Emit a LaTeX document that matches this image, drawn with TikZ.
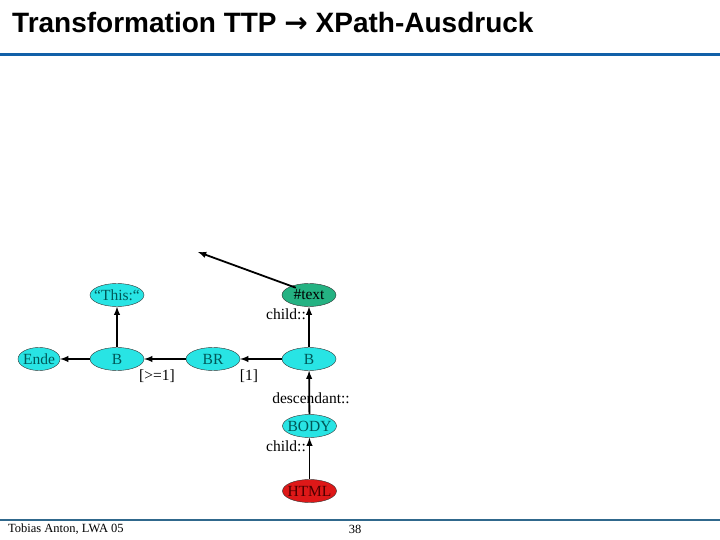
\documentclass[tikz,border=0pt]{standalone}
\usepackage{fontspec}
\setmainfont{Liberation Serif}
\newfontfamily\titlefont{Liberation Sans}
\newfontfamily\pfeilfont{DejaVu Sans}
\usepackage{tikz}
\usetikzlibrary{arrows,shapes,positioning}

\definecolor{knotcyan}{RGB}{40,228,228}
\definecolor{knottext}{RGB}{0,88,88}
\definecolor{textgreen}{RGB}{36,178,130}
\definecolor{htmlred}{RGB}{222,24,24}
\definecolor{headblue}{RGB}{18,96,168}
\definecolor{footblue}{RGB}{48,104,140}

\begin{document}
\begin{tikzpicture}[x=10pt,y=-10pt,
  knot/.style={ellipse,draw=black!80,thin,fill=knotcyan,text=knottext,inner xsep=-6pt,inner ysep=0pt,
               minimum width=54pt,minimum height=23pt,font=\fontsize{15.5}{15.5}\selectfont},
  pfeil/.style={->,>=latex,line width=1.8pt},
  achse/.style={font=\fontsize{15.5}{15.5}\selectfont}]

\useasboundingbox[fill=white] (0,0) rectangle (72,54);

\node[anchor=base west,font=\titlefont\bfseries\fontsize{28}{28}\selectfont,inner sep=0pt] (titel) at (1.2,3.3) {Transformation TTP {\pfeilfont\bfseries →} XPath-Ausdruck};
\draw[headblue,line width=3pt] (0,5.5) -- (72,5.5);

% Baum
\node[knot] (this) at (11.7,29.5) {“This:“};
\node[knot,fill=textgreen,text=black] (text) at (30.9,29.5) {\#text};

\node[knot,minimum width=42pt] (ende) at (3.9,35.9) {Ende};
\node[knot] (b1) at (11.7,35.9) {B};
\node[knot] (br) at (21.3,35.9) {BR};
\node[knot] (b2) at (30.9,35.9) {B};

\node[knot] (body) at (30.95,42.6) {BODY};
\node[knot,fill=htmlred,text=black!70!red] (html) at (30.95,49.1) {HTML};

\coordinate (frei) at (19.8,25.2);

\draw[pfeil] (b1) -- (ende);
\draw[pfeil] (br) -- (b1);
\draw[pfeil] (b2) -- (br);
\draw[pfeil] (b1) -- (this);
\draw[pfeil] (b2) -- (text);
\draw[pfeil] (body) -- (b2);
\draw[pfeil] (html) -- (body);
\draw[pfeil] (text.north west) ++(0.6,0.1) -- (frei);

% Achsen
\node[achse] (ge1) at (15.7,37.6) {[>=1]};
\node[achse] (eins) at (24.9,37.6) {[1]};
\node[achse] (child1) at (28.6,31.4) {child::};
\node[achse] (desc) at (31.1,39.8) {descendant::};
\node[achse] (child2) at (28.6,44.6) {child::};

% Fusszeile
\draw[footblue,line width=2pt] (0,52.0) -- (72,52.0);
\node[anchor=west,inner sep=0pt,font=\fontsize{12.5}{12.5}\selectfont] (autor) at (0.8,52.9) {Tobias Anton, LWA 05};
\node[inner sep=0pt,font=\fontsize{12.5}{12.5}\selectfont] (seite) at (35.5,52.9) {38};

\end{tikzpicture}
\end{document}
